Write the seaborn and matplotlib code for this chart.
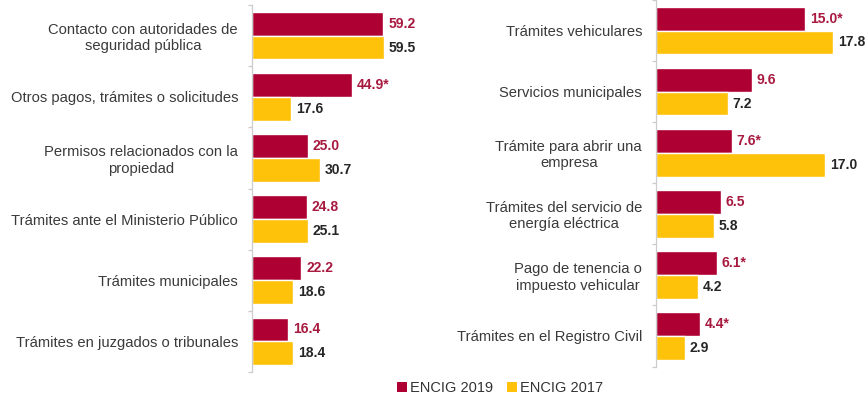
import matplotlib
matplotlib.use("Agg")
import matplotlib.pyplot as plt
import seaborn as sns
import pandas as pd
from matplotlib.patches import Patch

# Categories and percentages, ENCIG 2019 vs ENCIG 2017
left_categories = [
    "Contacto con autoridades de\nseguridad pública",
    "Otros pagos, trámites o solicitudes",
    "Permisos relacionados con la\npropiedad",
    "Trámites ante el Ministerio Público",
    "Trámites municipales",
    "Trámites en juzgados o tribunales",
]
left_2019 = [59.2, 44.9, 25.0, 24.8, 22.2, 16.4]
left_2017 = [59.5, 17.6, 30.7, 25.1, 18.6, 18.4]
left_signif = [False, True, False, False, False, False]

right_categories = [
    "Trámites vehiculares",
    "Servicios municipales",
    "Trámite para abrir una\nempresa",
    "Trámites del servicio de\nenergía eléctrica",
    "Pago de tenencia o\nimpuesto vehicular",
    "Trámites en el Registro Civil",
]
right_2019 = [15.0, 9.6, 7.6, 6.5, 6.1, 4.4]
right_2017 = [17.8, 7.2, 17.0, 5.8, 4.2, 2.9]
right_signif = [True, False, True, False, True, True]

series = ["ENCIG 2019", "ENCIG 2017"]
colors = {"ENCIG 2019": "#AE0032", "ENCIG 2017": "#FFC20A"}
label_colors = {"ENCIG 2019": "#A8193F", "ENCIG 2017": "#262626"}

sns.set_theme(style="white")
plt.rcParams["font.family"] = ["Liberation Sans", "DejaVu Sans"]

W, H = 866, 396
fig = plt.figure(figsize=(W / 100, H / 100), dpi=100)


def long_frame(cats, v19, v17):
    rows = []
    for c, a, b in zip(cats, v19, v17):
        rows.append({"cat": c, "serie": series[0], "valor": a})
        rows.append({"cat": c, "serie": series[1], "valor": b})
    return pd.DataFrame(rows)


def panel(rect, cats, v19, v17, signif, xmax):
    ax = fig.add_axes(rect)
    df = long_frame(cats, v19, v17)
    sns.barplot(data=df, y="cat", x="valor", hue="serie", hue_order=series,
                order=cats, palette=colors, orient="h", width=0.78,
                ax=ax, legend=False, errorbar=None, saturation=1)
    ax.set_xlim(0, xmax)
    ax.set_ylim(len(cats) - 0.5, -0.5)
    ax.set_xlabel("")
    ax.set_ylabel("")
    ax.set_xticks([])
    for s in ["top", "right", "bottom"]:
        ax.spines[s].set_visible(False)
    ax.spines["left"].set_color("#cccccc")
    ax.spines["left"].set_linewidth(0.9)
    ax.tick_params(axis="y", which="major", left=False, length=0, pad=10,
                   labelsize=10.6, labelcolor="#3a3a3a")
    ax.set_yticks([i - 0.5 for i in range(len(cats) + 1)], minor=True)
    ax.tick_params(axis="y", which="minor", left=True, length=3,
                   color="#cccccc", width=0.9, direction="out")
    for lbl in ax.get_yticklabels():
        lbl.set_horizontalalignment("right")
        lbl.set_multialignment("center")
        lbl.set_linespacing(1.2)

    lab19 = [f"{v:.1f}*" if s else f"{v:.1f}" for v, s in zip(v19, signif)]
    lab17 = [f"{v:.1f}" for v in v17]
    for cont, labs, name in zip(ax.containers, [lab19, lab17], series):
        texts = ax.bar_label(cont, labels=labs, padding=3.5, fontsize=10,
                             fontweight="bold", color=label_colors[name])
        for t in texts:
            t.set_clip_on(False)
    return ax


panel([252 / W, (H - 372) / H, 62 * 2.22 / W, 367 / H],
      left_categories, left_2019, left_2017, left_signif, 62)
panel([656 / W, (H - 366.5) / H, 19 * 9.95 / W, 366.5 / H],
      right_categories, right_2019, right_2017, right_signif, 19)

handles = [Patch(facecolor=colors[s], edgecolor="none", label=s) for s in series]
fig.legend(handles=handles, loc="center", bbox_to_anchor=(500 / W, 1 - 388 / H),
           ncol=2, frameon=False, fontsize=10.5, handlelength=0.65,
           handleheight=0.65, handletextpad=0.2, columnspacing=1.0,
           labelcolor="#333333", borderpad=0)

fig.savefig("out.png", dpi=100, facecolor="white")
